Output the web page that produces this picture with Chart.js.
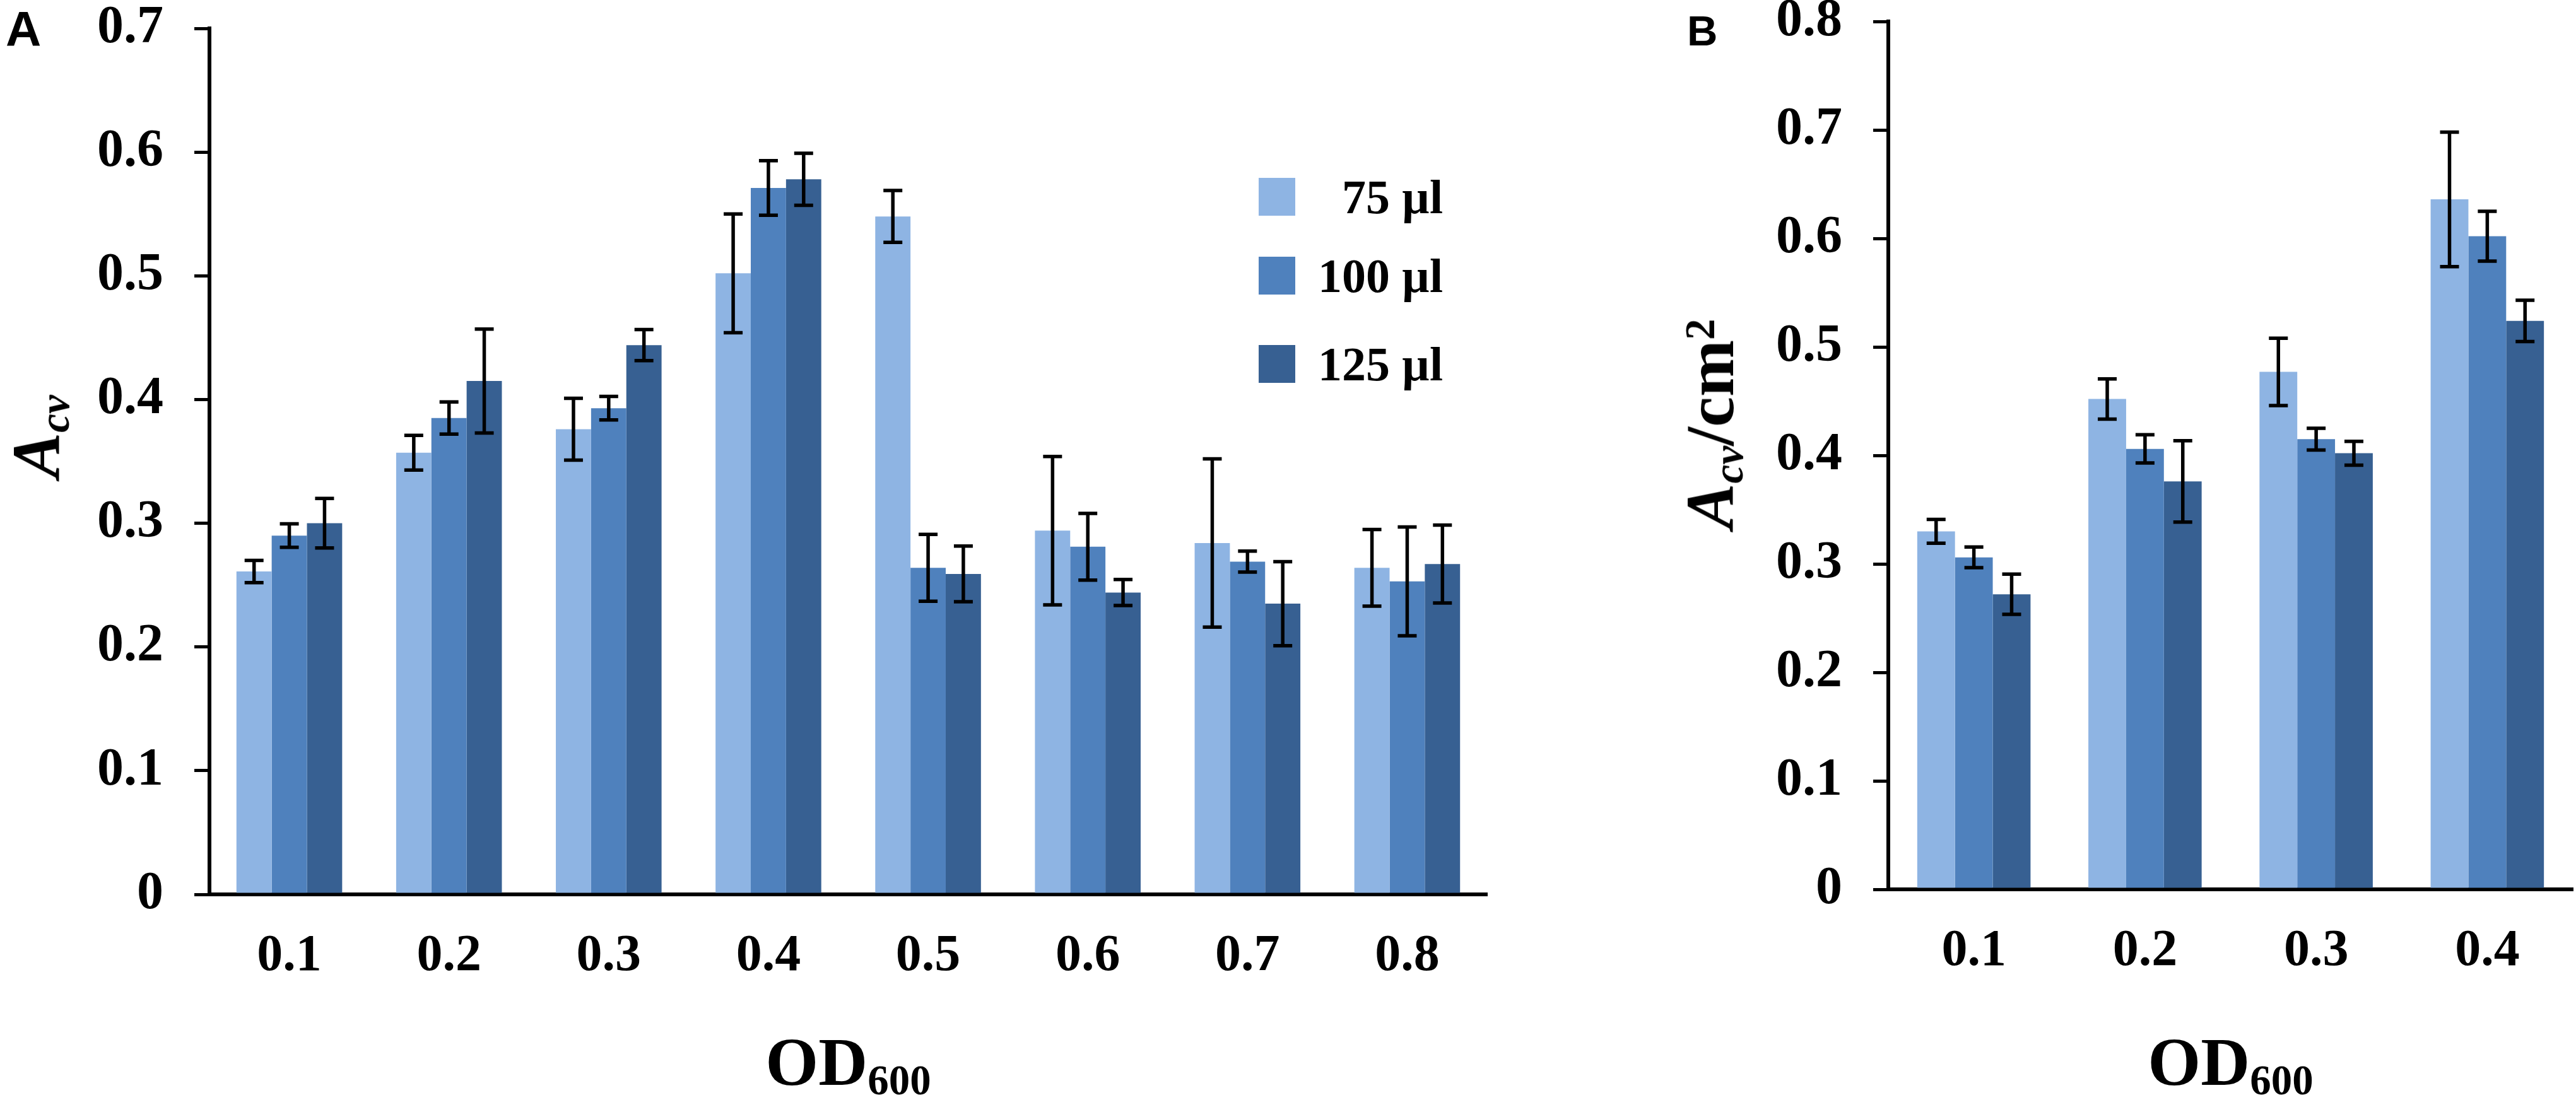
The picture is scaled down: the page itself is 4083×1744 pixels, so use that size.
<!DOCTYPE html>
<html lang="en">
<head>
  <meta charset="UTF-8">
  <title>Acv vs OD600</title>
  <style>
    body {
      margin: 0;
      width: 4083px;
      height: 1744px;
      background: #fff;
      position: relative;
      overflow: hidden;
      font-family: 'Liberation Serif', 'Times New Roman', serif;
      color: #000;
    }
    canvas { position: absolute; top: 0; }
    .panel {
      position: absolute;
      font-family: 'Liberation Sans', Arial, sans-serif;
      font-weight: bold;
      line-height: 1;
    }
    .xtitle {
      position: absolute;
      top: 1630px;
      text-align: center;
      font-weight: bold;
      font-size: 108px;
      line-height: 1;
      white-space: nowrap;
    }
    .ytitle {
      position: absolute;
      font-weight: bold;
      font-size: 108px;
      line-height: 1;
      white-space: nowrap;
      transform: translate(-50%, -50%) rotate(-90deg);
    }
    .sub {
      font-size: 0.62em;
      position: relative;
      top: 0.22em;
    }
    .sup {
      font-size: 0.62em;
      position: relative;
      top: -0.45em;
    }
    .legend-item {
      position: absolute;
      left: 1995px;
      width: 292px;
      height: 60px;
    }
    .legend-item .box {
      position: absolute;
      left: 0;
      top: 0;
      width: 58px;
      height: 60px;
    }
    .legend-item .txt {
      position: absolute;
      right: 0;
      top: 0;
      line-height: 60px;
      font-weight: bold;
      font-size: 76px;
      white-space: nowrap;
    }
  </style>
</head>
<body>
  <canvas id="chartA" width="2440" height="1744" style="left:0"></canvas>
  <canvas id="chartB" width="1523" height="1744" style="left:2560px"></canvas>

  <div class="panel" style="left:9px; top:7px; font-size:78px;">A</div>
  <div class="panel" style="left:2674px; top:15px; font-size:67px;">B</div>

  <div class="ytitle" style="left:58px; top:692px;"><i>A</i><span class="sub"><i>cv</i></span></div>
  <div class="ytitle" style="left:2711px; top:672px;"><i>A</i><span class="sub"><i>cv</i></span>/cm<span class="sup">2</span></div>

  <div class="xtitle" style="left:332px; width:2025px;">OD<span class="sub">600</span></div>
  <div class="xtitle" style="left:2993px; width:1085px;">OD<span class="sub">600</span></div>

  <div id="legend"></div>

  <script src="https://cdn.jsdelivr.net/npm/chart.js"></script>
  <script>
    // Panel A data
    const categoriesA = ['0.1', '0.2', '0.3', '0.4', '0.5', '0.6', '0.7', '0.8'];
    const a75 = [0.261, 0.357, 0.376, 0.502, 0.548, 0.294, 0.284, 0.264];
    const a100 = [0.290, 0.385, 0.393, 0.571, 0.264, 0.281, 0.269, 0.253];
    const a125 = [0.300, 0.415, 0.444, 0.578, 0.259, 0.244, 0.235, 0.267];
    const a75Err = [0.009, 0.014, 0.025, 0.048, 0.021, 0.060, 0.068, 0.031];
    const a100Err = [0.0095, 0.013, 0.0095, 0.022, 0.027, 0.027, 0.0085, 0.044];
    const a125Err = [0.020, 0.042, 0.0125, 0.021, 0.0225, 0.0105, 0.034, 0.0315];
    const yTicksA = ['0', '0.1', '0.2', '0.3', '0.4', '0.5', '0.6', '0.7'];

    // Panel B data
    const categoriesB = ['0.1', '0.2', '0.3', '0.4'];
    const b75 = [0.330, 0.452, 0.477, 0.636];
    const b100 = [0.306, 0.406, 0.415, 0.602];
    const b125 = [0.272, 0.376, 0.402, 0.524];
    const b75Err = [0.011, 0.0185, 0.031, 0.062];
    const b100Err = [0.0095, 0.013, 0.010, 0.023];
    const b125Err = [0.0185, 0.0375, 0.011, 0.019];
    const yTicksB = ['0', '0.1', '0.2', '0.3', '0.4', '0.5', '0.6', '0.7', '0.8'];

    const seriesNames = ['75 µl', '100 µl', '125 µl'];
    const seriesColors = ['#8EB4E3', '#4F81BD', '#376092'];
    const legendTops = [282, 407, 547];

    // legend (top right of panel A)
    const legend = document.getElementById('legend');
    seriesNames.forEach((name, i) => {
      const item = document.createElement('div');
      item.className = 'legend-item';
      item.style.top = legendTops[i] + 'px';
      item.innerHTML = '<div class="box" style="background:' + seriesColors[i] + '"></div>' +
        '<div class="txt">' + name + '</div>';
      legend.appendChild(item);
    });

    // error bars drawn on top of the bars
    const errorBars = {
      id: 'errorBars',
      afterDatasetsDraw(chart) {
        const ctx = chart.ctx;
        const y = chart.scales.y;
        ctx.save();
        ctx.strokeStyle = '#000';
        ctx.lineWidth = 5.5;
        chart.data.datasets.forEach((ds, di) => {
          const meta = chart.getDatasetMeta(di);
          meta.data.forEach((bar, i) => {
            const v = ds.data[i], e = ds.errors[i];
            const top = y.getPixelForValue(v + e);
            const bot = y.getPixelForValue(v - e);
            const cap = 15;
            ctx.beginPath();
            ctx.moveTo(bar.x, top); ctx.lineTo(bar.x, bot);
            ctx.moveTo(bar.x - cap, top); ctx.lineTo(bar.x + cap, top);
            ctx.moveTo(bar.x - cap, bot); ctx.lineTo(bar.x + cap, bot);
            ctx.stroke();
          });
        });
        ctx.restore();
      }
    };

    const serif = "'Liberation Serif', 'Times New Roman', serif";
    const xFont = { family: serif, size: 82, weight: 'bold' };
    const yFont = { family: serif, size: 84, weight: 'bold' };

    function makeChart(id, labels, values, errors, yMax, yLabels, axisWidth) {
      return new Chart(document.getElementById(id), {
        type: 'bar',
        data: {
          labels: labels,
          datasets: values.map((vals, i) => ({
            label: seriesNames[i],
            data: vals,
            errors: errors[i],
            backgroundColor: seriesColors[i],
            borderWidth: 0,
            categoryPercentage: 0.662,
            barPercentage: 1.0
          }))
        },
        options: {
          responsive: false,
          devicePixelRatio: 1,
          animation: false,
          layout: { padding: { top: 0, right: 0, bottom: 0, left: 0 } },
          plugins: { legend: { display: false }, tooltip: { enabled: false } },
          scales: {
            x: {
              grid: { display: true, drawOnChartArea: false, drawTicks: false },
              border: { display: true, color: '#000', width: 6 },
              ticks: { color: '#000', font: xFont, padding: 50, maxRotation: 0 },
              afterFit: s => { s.height = 280; s.paddingLeft = 0; s.paddingRight = 0; }
            },
            y: {
              min: 0,
              max: yMax,
              ticks: {
                stepSize: 0.1,
                color: '#000',
                font: yFont,
                padding: 49,
                callback: (v, i) => yLabels[i]
              },
              grid: { display: true, drawOnChartArea: false, drawTicks: true, tickLength: 24, color: '#000', lineWidth: 5 },
              border: { display: true, color: '#000', width: 6 },
              // the plot area is placed by hand below, so drop the label overhang
              afterFit: s => { s.width = axisWidth; s.paddingTop = 0; s.paddingBottom = 0; }
            }
          }
        },
        plugins: [errorBars]
      });
    }

    // nudge the layout padding until the plot area sits where it does in the figure
    function placeArea(chart, area) {
      for (let k = 0; k < 4; k++) {
        const ca = chart.chartArea;
        const p = chart.options.layout.padding;
        p.top = Math.max(0, p.top + area.top - ca.top);
        p.left = Math.max(0, p.left + area.left - ca.left);
        p.right = Math.max(0, p.right + ca.right - area.right);
        p.bottom = Math.max(0, p.bottom + ca.bottom - area.bottom);
        chart.update();
      }
    }

    const chartA = makeChart('chartA', categoriesA, [a75, a100, a125], [a75Err, a100Err, a125Err],
      0.7, yTicksA, 332);
    placeArea(chartA, { left: 332, right: 2357, top: 45, bottom: 1418 });

    const chartB = makeChart('chartB', categoriesB, [b75, b100, b125], [b75Err, b100Err, b125Err],
      0.8, yTicksB, 433);
    placeArea(chartB, { left: 433, right: 1518, top: 34, bottom: 1410 });
  </script>
</body>
</html>
